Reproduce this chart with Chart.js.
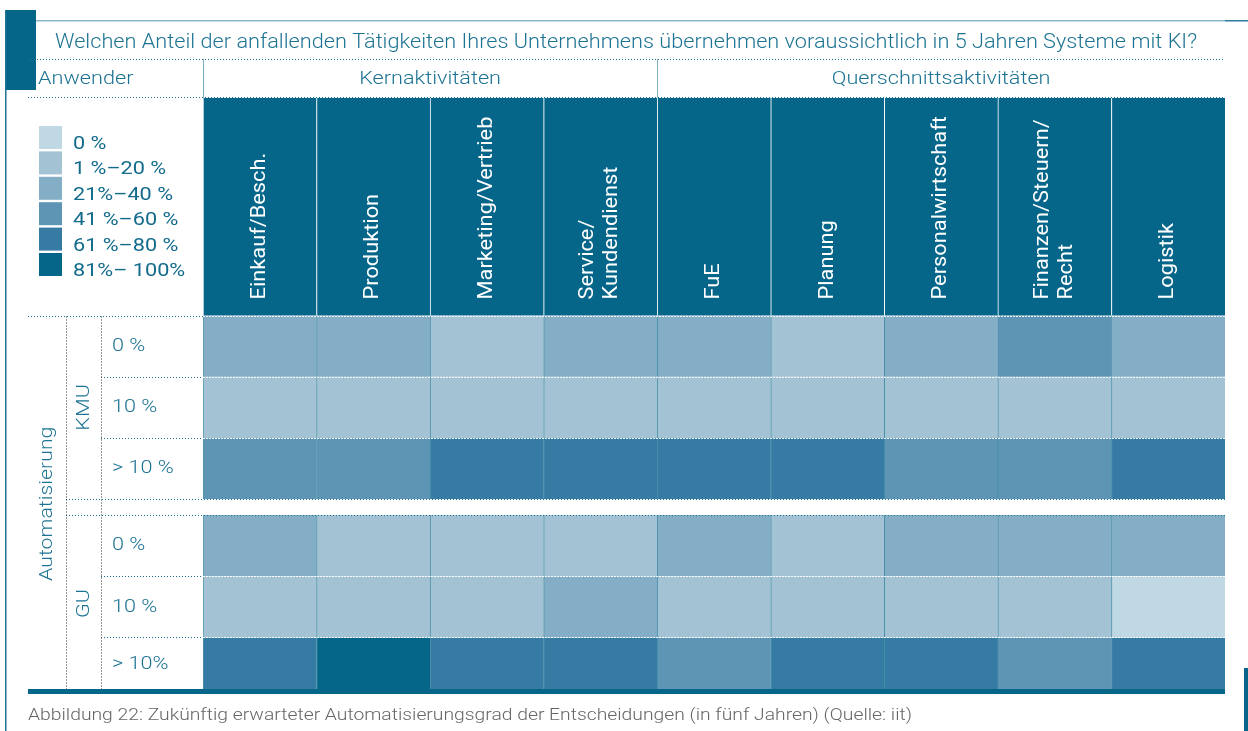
<!DOCTYPE html>
<html lang="de">
<head>
<meta charset="utf-8">
<script src="https://cdn.jsdelivr.net/npm/chart.js@4.4.1/dist/chart.umd.min.js"></script>
<style>
  html, body { margin: 0; padding: 0; background: #fff; }
  #wrap { position: relative; width: 1248px; height: 731px; }
</style>
</head>
<body>
<div id="wrap"><canvas id="chart" width="1248" height="731"></canvas></div>
<script>
// Texts
const title = "Welchen Anteil der anfallenden Tätigkeiten Ihres Unternehmens übernehmen voraussichtlich in 5 Jahren Systeme mit KI?";
const caption = "Abbildung 22: Zukünftig erwarteter Automatisierungsgrad der Entscheidungen (in fünf Jahren) (Quelle: iit)";

// Columns and column groups
const activities = ["Einkauf/Besch.", "Produktion", "Marketing/Vertrieb", ["Service/", "Kundendienst"],
    "FuE", "Planung", "Personalwirtschaft", ["Finanzen/Steuern/", "Recht"], "Logistik"];
const activityGroups = ["Kernaktivitäten", "Querschnittsaktivitäten"];
const groupSizes = [4, 5];

// Row groups
const companyTypes = ["KMU", "GU"];
const kmuRowLabels = ["0 %", "10 %", "> 10 %"];
const guRowLabels = ["0 %", "10 %", "> 10%"];

// Legend classes (index used in the rows below)
const legendLabels = ["0 %", "1 %–20 %", "21%–40 %", "41 %–60 %", "61 %–80 %", "81%– 100%"];

// Share class per activity (0 = 0 %, ... 5 = 81–100 %)
const kmu0 = [2, 2, 1, 2, 2, 1, 2, 3, 2];
const kmu10 = [1, 1, 1, 1, 1, 1, 1, 1, 1];
const kmuOver10 = [3, 3, 4, 4, 4, 4, 3, 3, 4];
const gu0 = [2, 1, 1, 1, 2, 1, 2, 2, 2];
const gu10 = [1, 1, 1, 2, 1, 1, 1, 1, 0];
const guOver10 = [4, 5, 4, 4, 3, 4, 4, 3, 4];

const palette = ["#c0d8e3", "#a3c3d4", "#83aec6", "#5e95b5", "#357ba4", "#05668a"];
const teal = "#05668a";
const textTeal = "#1d7393";
const LIGHT = "300 19px Roboto";
const WIDE = 1.14; // reference face runs wider than Roboto

// vertical layout in row units
const HEADER_UNITS = 3.554;
const GAP_UNITS = 0.26;
const Y_MAX = 9.706;

const rowGroups = [[kmu0, kmu10, kmuOver10], [gu0, gu10, guOver10]];
const rowTop = (g, r) => HEADER_UNITS + g * (3 + GAP_UNITS) + r;

const datasets = [{
    label: "header",
    data: activities.map(() => [0, HEADER_UNITS]),
    backgroundColor: teal,
    borderColor: "rgba(255,255,255,0.8)",
    borderWidth: { left: 1, right: 0, top: 0, bottom: 0 },
    borderSkipped: false,
}];
rowGroups.forEach((rows, g) => {
    rows.forEach((levels, r) => {
        datasets.push({
            label: companyTypes[g] + " " + (g ? guRowLabels : kmuRowLabels)[r],
            data: levels.map(() => [rowTop(g, r), rowTop(g, r) + 1]),
            backgroundColor: levels.map((l) => palette[l]),
            borderColor: "rgba(5,102,138,0.7)",
            borderWidth: { left: 1, right: 0, top: 0, bottom: 0 },
            borderSkipped: false,
        });
    });
});

function dotted(ctx, x1, y1, x2, y2, color, dash) {
    ctx.save();
    ctx.strokeStyle = color;
    ctx.lineWidth = 1;
    ctx.setLineDash(dash || [1, 2]);
    ctx.beginPath();
    ctx.moveTo(x1, y1);
    ctx.lineTo(x2, y2);
    ctx.stroke();
    ctx.restore();
}

// text with horizontal stretch; sx < 0 means "fit to width -sx"
function text(ctx, str, x, y, opt) {
    ctx.save();
    ctx.font = opt.font || LIGHT;
    ctx.fillStyle = opt.color || textTeal;
    ctx.textAlign = opt.align || "left";
    ctx.textBaseline = opt.baseline || "middle";
    let sx = opt.sx || WIDE;
    if (opt.fit) sx = opt.fit / ctx.measureText(str).width;
    ctx.translate(x, y);
    if (opt.rotate) ctx.rotate(-Math.PI / 2);
    ctx.scale(sx, 1);
    ctx.fillText(str, 0, opt.dy || 0);
    ctx.restore();
}

const decor = {
    id: "decor",
    afterDraw(chart) {
        const ctx = chart.ctx;
        const xs = chart.scales.x, ys = chart.scales.y;
        const area = chart.chartArea;
        const colW = xs.getPixelForValue(1) - xs.getPixelForValue(0);
        const colLeft = (i) => xs.getPixelForValue(i) - colW / 2;
        const yPx = (v) => Math.round(ys.getPixelForValue(v)) + 0.5;
        const L = 28;

        ctx.save();
        // frame
        ctx.fillStyle = teal;
        ctx.fillRect(6, 10, 30, 80);
        ctx.fillStyle = "#1d7393";
        ctx.fillRect(5, 10, 1.5, 721);
        ctx.fillStyle = "#8ab8ca";
        ctx.fillRect(36, 20, 1189, 1.5);
        ctx.fillStyle = "#2f7c9e";
        ctx.fillRect(1225, 20, 23, 1.5);
        ctx.fillStyle = teal;
        ctx.fillRect(1244, 668, 4, 63);

        // title and header rows
        text(ctx, title, 626, 43, { font: "300 19.5px Roboto", align: "center", fit: 1142 });
        dotted(ctx, L, 59.5, area.right, 59.5, textTeal);
        dotted(ctx, L, area.top - 0.5, area.right, area.top - 0.5, textTeal);
        text(ctx, "Anwender", 38, 79, {});
        let start = 0;
        groupSizes.forEach((n, k) => {
            const x0 = colLeft(start), x1 = colLeft(start + n);
            ctx.fillStyle = "#7fb0c4";
            ctx.fillRect(Math.round(x0), 59, 1, area.top - 59);
            text(ctx, activityGroups[k], (x0 + x1) / 2, 79, { align: "center" });
            start += n;
        });

        // legend
        legendLabels.forEach((lab, i) => {
            const top = 126 + i * 25.4;
            ctx.fillStyle = palette[i];
            ctx.fillRect(39, top, 23, 23);
            text(ctx, lab, 73, top + 23, { font: "400 19px Roboto", color: "#136b8c", baseline: "alphabetic" });
        });

        // column headers (rotated)
        activities.forEach((a, i) => {
            const lines = [].concat(a);
            const cx = xs.getPixelForValue(i);
            lines.forEach((ln, j) => {
                text(ctx, ln, cx, yPx(HEADER_UNITS) - 17, {
                    font: "400 20px Roboto", color: "#ffffff", rotate: true, sx: 1.09,
                    dy: (j - (lines.length - 1) / 2) * 24,
                });
            });
        });

        // white dotted row separators inside cells
        const ySepsWhite = [HEADER_UNITS, rowTop(0, 1), rowTop(0, 2), rowTop(1, 1), rowTop(1, 2)];
        ySepsWhite.forEach((v) => dotted(ctx, area.left, yPx(v), area.right, yPx(v), "rgba(255,255,255,0.9)", [2, 1]));
        // gap edges
        const gapTop = yPx(rowTop(0, 3)), gapBot = yPx(rowTop(1, 0));
        dotted(ctx, 66, gapTop, area.right, gapTop, textTeal);
        dotted(ctx, 66, gapBot, area.right, gapBot, textTeal);

        // left side structure
        dotted(ctx, L, yPx(HEADER_UNITS), area.left, yPx(HEADER_UNITS), textTeal);
        [rowTop(0, 1), rowTop(0, 2), rowTop(1, 1), rowTop(1, 2)].forEach((v) =>
            dotted(ctx, 101, yPx(v), area.left, yPx(v), textTeal));
        dotted(ctx, 66.5, yPx(HEADER_UNITS), 66.5, area.bottom, "#333333");
        dotted(ctx, 101.5, yPx(HEADER_UNITS), 101.5, area.bottom, "#333333");

        // left labels
        const rowMid = (g, r) => ys.getPixelForValue(Math.min(rowTop(g, r) + 0.5, (rowTop(g, r) + Y_MAX) / 2));
        rowGroups.forEach((rows, g) => {
            const labels = g ? guRowLabels : kmuRowLabels;
            rows.forEach((_, r) => text(ctx, labels[r], 112, rowMid(g, r), {}));
            const yc = (ys.getPixelForValue(rowTop(g, 0)) + (g ? area.bottom : ys.getPixelForValue(rowTop(g, 3)))) / 2;
            text(ctx, companyTypes[g], 84, yc, { align: "center", rotate: true });
        });
        text(ctx, "Automatisierung", 47, (ys.getPixelForValue(HEADER_UNITS) + area.bottom) / 2,
            { align: "center", rotate: true, sx: 1.12 });

        // bottom rule and caption
        ctx.fillStyle = teal;
        ctx.fillRect(L, 689, area.right - L, 5);
        text(ctx, caption, L, 716, { font: "300 17px Roboto", color: "#666666", fit: 884 });
        ctx.restore();
    },
};

new Chart(document.getElementById("chart"), {
    type: "bar",
    data: { labels: activities, datasets: datasets },
    options: {
        responsive: false,
        animation: false,
        layout: { padding: { left: 203, right: 23, top: 98, bottom: 39 } },
        datasets: { bar: { grouped: false, barPercentage: 1, categoryPercentage: 1 } },
        scales: {
            x: { display: false },
            y: { display: false, reverse: true, min: 0, max: Y_MAX },
        },
        plugins: { legend: { display: false }, tooltip: { enabled: false } },
    },
    plugins: [decor],
});
</script>
</body>
</html>
